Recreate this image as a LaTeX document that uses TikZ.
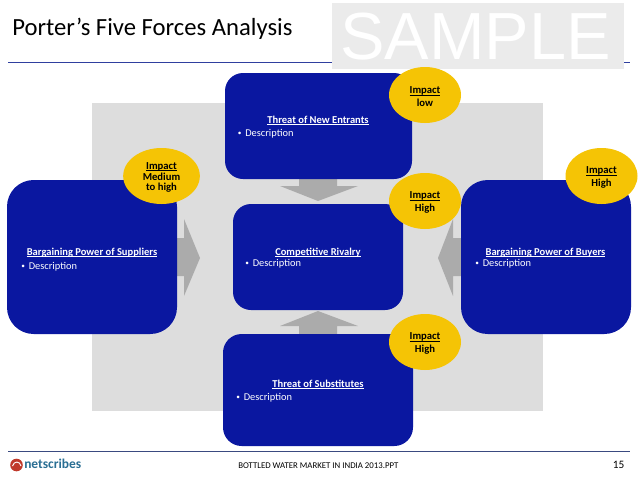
\documentclass[tikz,border=0pt]{standalone}
\usepackage{fontspec}
\setmainfont{Carlito}
\usetikzlibrary{shapes.geometric}
\definecolor{boxblue}{HTML}{0A17A0}
\definecolor{impact}{HTML}{F5C405}
\definecolor{panel}{HTML}{DDDDDD}
\definecolor{arrowgray}{HTML}{ABABAB}
\definecolor{rulecol}{HTML}{2F3F9F}
\definecolor{footrule}{HTML}{3A4A80}
\definecolor{stamp}{HTML}{EBEBEB}
\definecolor{logoblue}{HTML}{2A6F94}
\definecolor{logored}{HTML}{C0392B}
\newcommand{\ul}[1]{\setbox0\hbox{#1}\rlap{\rule[-1.2pt]{\wd0}{0.45pt}}\box0}
\newcommand{\bul}{{\fontsize{5.5}{6}\selectfont\raisebox{0.4pt}{•}}\hspace{2.9pt}}
\tikzset{
 x=0.75pt,y=-0.75pt,
 forcebox/.style 2 args={fill=boxblue,draw=none,inner sep=0pt,minimum width=#1*0.75pt,minimum height=#2*0.75pt},
 impactoval/.style={ellipse,fill=impact,draw=none,inner sep=0pt,minimum width=54pt,minimum height=42pt},
 impacttext/.style={inner sep=0pt,yshift=-1.1pt,align=center,font=\fontsize{8}{9.3}\selectfont\bfseries\color{black}},
 head/.style={font=\fontsize{7.9}{9}\selectfont\bfseries,text=white,inner sep=0pt,anchor=base},
 desc/.style={font=\fontsize{7.8}{9}\selectfont,text=white,inner sep=0pt,anchor=base west},
}
\begin{document}
\begin{tikzpicture}
\useasboundingbox (0,0) rectangle (638,479);
\fill[white] (0,0) rectangle (638,479);
% rules
\coordinate (ruleL) at (8,62.7); \coordinate (ruleR) at (630,62.7);
\draw[rulecol,line width=0.8pt] (ruleL) -- (ruleR);
\coordinate (footL) at (8,451.5); \coordinate (footR) at (630,451.5);
\draw[footrule,line width=0.8pt] (footL) -- (footR);
% stamp
\fill[stamp] (332,3) rectangle (624,69);
\node[inner sep=0pt,anchor=west,text=white] (sample) at (340,37) {\fontspec{Liberation Sans}\fontsize{50}{50}\selectfont SAMPLE};
% title
\node[inner sep=0pt,anchor=west] (title) at (12,29) {\fontsize{18.5}{20}\selectfont Porter’s Five Forces Analysis};
% panel
\fill[panel] (92,103) rectangle (543,411);
% arrows
\fill[arrowgray] (299,175) -- (337,175) -- (337,186) -- (358,186) -- (318,201) -- (280,186) -- (299,186) -- cycle;
\fill[arrowgray] (299,338) -- (337,338) -- (337,326) -- (358,326) -- (318,311) -- (280,326) -- (299,326) -- cycle;
\fill[arrowgray] (172,238) -- (184,238) -- (184,219) -- (200,258) -- (184,296) -- (184,276) -- (172,276) -- cycle;
\fill[arrowgray] (466,238) -- (453,238) -- (453,219) -- (438,258) -- (453,296) -- (453,276) -- (466,276) -- cycle;
% boxes
\node[forcebox={187}{106},rounded corners=13.5pt] (top) at (318.5,126) {};
\node[forcebox={170}{154},rounded corners=20pt] (left) at (92,257) {};
\node[forcebox={170}{106},rounded corners=13.5pt] (mid) at (318,257) {};
\node[forcebox={170}{154},rounded corners=20pt] (right) at (546,257) {};
\node[forcebox={190}{112},rounded corners=14pt] (bottom) at (318,390) {};
% texts
\node[head] (t1) at (318,123) {\ul{Threat of New Entrants}};
\node[desc] (d1) at (237.5,136) {\bul Description};
\node[head] (t2) at (92,255) {\ul{Bargaining Power of Suppliers}};
\node[desc] (d2) at (21,269) {\bul Description};
\node[head] (t3) at (318,255) {\ul{Competitive Rivalry}};
\node[desc] (d3) at (245,266) {\bul Description};
\node[head] (t4) at (545.5,255) {\ul{Bargaining Power of Buyers}};
\node[desc] (d4) at (475,266) {\bul Description};
\node[head] (t5) at (318,387) {\ul{Threat of Substitutes}};
\node[desc] (d5) at (236,400) {\bul Description};
% ovals
\node[impactoval] (o1) at (425,95) {};
\node[impacttext] (i1) at (o1) {\ul{Impact}\\low};
\node[impactoval,minimum width=57.5pt] (o2) at (161.5,176) {};
\node[impacttext,font=\fontsize{8}{7.9}\selectfont\bfseries\color{black}] (i2) at (o2) {\ul{Impact}\\Medium\\to high};
\node[impactoval] (o3) at (425,201) {};
\node[impacttext] (i3) at (o3) {\ul{Impact}\\High};
\node[impactoval] (o4) at (601.5,176) {};
\node[impacttext] (i4) at (o4) {\ul{Impact}\\High};
\node[impactoval] (o5) at (425,342) {};
\node[impacttext] (i5) at (o5) {\ul{Impact}\\High};
% footer
\node[inner sep=0pt,anchor=west] (foot) at (238,466) {\fontsize{6.6}{8}\selectfont BOTTLED WATER MARKET IN INDIA 2013.PPT};
\node[inner sep=0pt] (page) at (618.5,464.5) {\fontsize{8.5}{10}\selectfont 15};
% logo
\fill[logored] (16.5,465) circle (6.3);
\draw[white,line width=0.7pt] (12.5,466) .. controls (14,460.5) and (20,461) .. (21,466);
\node[inner sep=0pt,anchor=base west,text=logoblue] (logo) at (24,468.5) {\bfseries\fontsize{10.1}{12}\selectfont netscribes};
\end{tikzpicture}
\end{document}
